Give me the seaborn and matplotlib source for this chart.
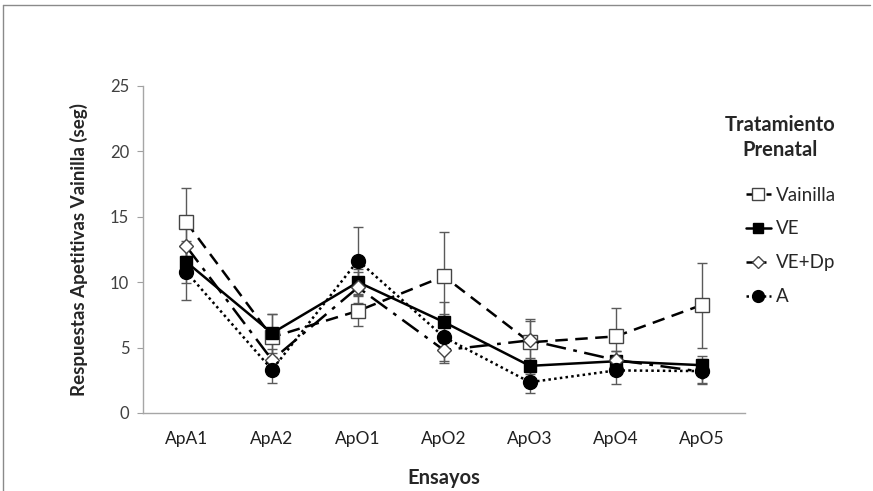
import numpy as np
import pandas as pd
import matplotlib
matplotlib.use("Agg")
import matplotlib.pyplot as plt
import seaborn as sns
from matplotlib.lines import Line2D

categories = ["ApA1", "ApA2", "ApO1", "ApO2", "ApO3", "ApO4", "ApO5"]
series_names = ["Vainilla", "VE", "VE+Dp", "A"]
vainilla = [14.6, 5.8, 7.8, 10.45, 5.4, 5.85, 8.25]
vainilla_err = [2.6, 1.8, 1.15, 3.4, 1.8, 2.2, 3.25]
ve = [11.55, 6.1, 10.0, 6.95, 3.6, 3.95, 3.65]
ve_err = [1.6, 1.5, 1.0, 1.5, 0.6, 0.8, 0.7]
vedp = [12.75, 4.05, 9.6, 4.8, 5.55, 4.05, 3.15]
vedp_err = [1.5, 0.8, 1.2, 1.0, 1.5, 0.7, 0.9]
a = [10.8, 3.3, 11.65, 5.8, 2.35, 3.25, 3.2]
a_err = [2.2, 1.0, 2.55, 1.8, 0.8, 1.0, 0.9]
yticks = [0, 5, 10, 15, 20, 25]

sns.set_style("white")
plt.rcParams['font.family'] = ['Lato', 'DejaVu Sans']

fig = plt.figure(figsize=(8.73, 4.91), dpi=100)
ax = fig.add_axes([0.164, 0.159, 0.689, 0.666])

x = np.arange(len(categories))
styles = {
    "Vainilla": dict(ls=(0, (5, 3)), marker="s", mfc="white", ms=9.5),
    "VE": dict(ls="-", marker="s", mfc="black", ms=8.5),
    "VE+Dp": dict(ls=(0, (8, 3, 1.5, 3)), marker="D", mfc="white", ms=7.5),
    "A": dict(ls=(0, (1, 1.3)), marker="o", mfc="black", ms=10),
}
data = {"Vainilla": (vainilla, vainilla_err), "VE": (ve, ve_err),
        "VE+Dp": (vedp, vedp_err), "A": (a, a_err)}

for name in series_names:
    vals, errs = data[name]
    ax.errorbar(x, vals, yerr=errs, fmt="none", ecolor="#5a5a5a",
                elinewidth=1.0, capsize=3.5, capthick=1.0, zorder=1)

for i, name in enumerate(series_names):
    vals, errs = data[name]
    df = pd.DataFrame({"x": x, "y": vals})
    st = styles[name]
    sns.lineplot(data=df, x="x", y="y", ax=ax, color="black", lw=1.8,
                 linestyle=st["ls"], marker=st["marker"],
                 markerfacecolor=st["mfc"],
                 markeredgecolor="black" if st["mfc"] == "black" else "#444444",
                 markeredgewidth=1.0, markersize=st["ms"], sort=False,
                 zorder=3 + i, legend=False)

ax.set_xlim(-0.5, len(categories) - 0.5)
ax.set_ylim(0, 25)
ax.set_yticks(yticks)
ax.set_yticklabels([str(t) for t in yticks], fontsize=12, color="#404040")
ax.set_xticks(x)
ax.set_xticklabels(categories, fontsize=12.5, color="#202020")
ax.tick_params(axis="x", length=0, pad=13)
ax.tick_params(axis="y", length=4, width=0.8, color="#a0a0a0", direction="out", pad=6, left=True)
for s in ["top", "right"]:
    ax.spines[s].set_visible(False)
for s in ["left", "bottom"]:
    ax.spines[s].set_color("#a6a6a6")
    ax.spines[s].set_linewidth(1.0)

ax.set_xlabel("Ensayos", fontsize=14.5, fontweight="bold", labelpad=15)
ax.set_ylabel("Respuestas Apetitivas Vainilla (seg)", fontsize=13.5, fontweight="bold", labelpad=16)

handles = []
for name in series_names:
    st = styles[name]
    handles.append(Line2D([], [], color="black", lw=1.8, linestyle=st["ls"],
                          marker=st["marker"], markerfacecolor=st["mfc"],
                          markeredgecolor="black" if st["mfc"] == "black" else "#444444",
                          markersize=st["ms"] * 0.85, markeredgewidth=1.0))
leg = ax.legend(handles, series_names, loc="upper left", bbox_to_anchor=(0.99, 0.715),
                frameon=False, fontsize=13.5, handlelength=1.3, handletextpad=0.3,
                labelspacing=0.9, borderaxespad=0)
fig.text(0.894, 0.72, "Tratamiento\nPrenatal", ha="center", va="center",
         fontsize=14.5, fontweight="bold", linespacing=1.35)

fig.add_artist(Line2D([0.003, 0.003], [0.0, 0.99], transform=fig.transFigure,
                      color="#8a8a8a", lw=1.0))
fig.add_artist(Line2D([0.003, 0.997], [0.99, 0.99], transform=fig.transFigure,
                      color="#8a8a8a", lw=1.0))

fig.savefig("out.png", dpi=100)
